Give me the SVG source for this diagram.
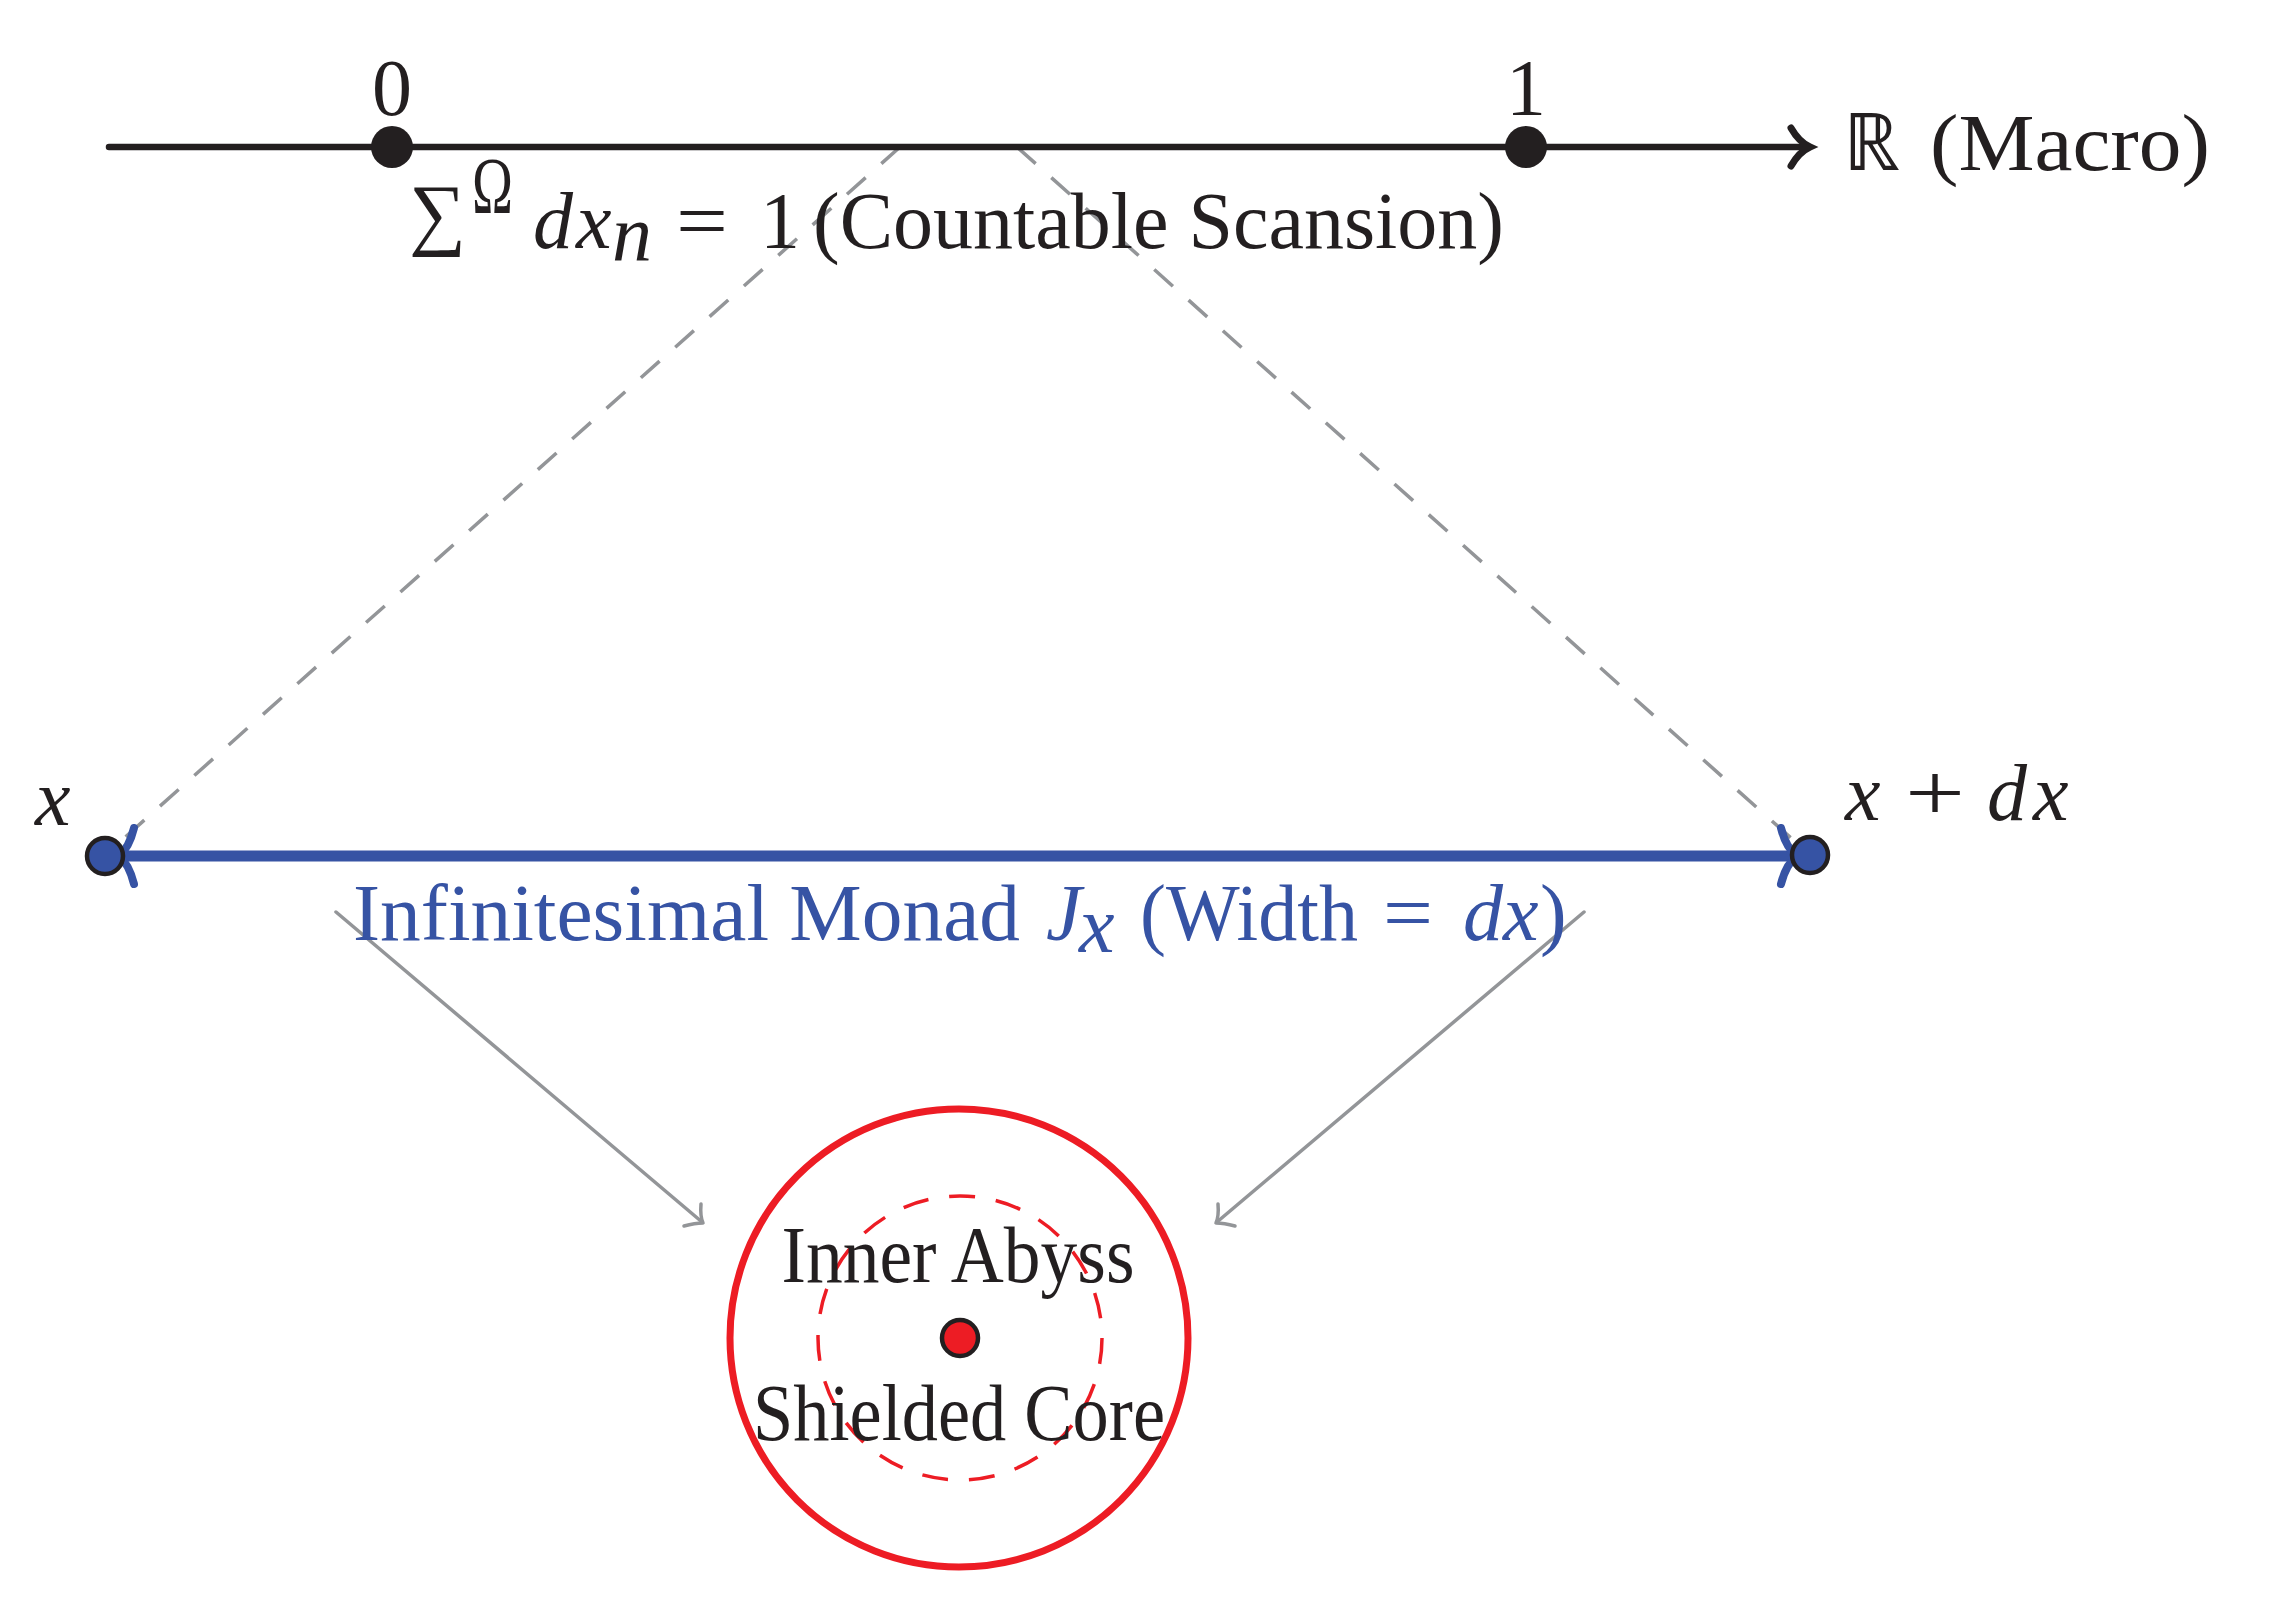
<svg xmlns="http://www.w3.org/2000/svg" width="2296" height="1598" viewBox="0 0 2296 1598">
<style>
.t{font-family:"Liberation Serif","Times New Roman",serif;font-size:80px;fill:#231f20}
.i{font-style:italic}
.b{fill:#3653a4}
.dash{stroke:#939598;stroke-width:3.5;fill:none;stroke-dasharray:25 21}
.gray{stroke:#939598;stroke-width:3.5;fill:none;stroke-linecap:round;stroke-linejoin:round}
.blk{stroke:#231f20;fill:none;stroke-linecap:round}
.blue{stroke:#3653a4;fill:none;stroke-linecap:round}
</style>
<rect width="2296" height="1598" fill="#ffffff"/>
<g id="connectors">
  <line class="dash" x1="900" y1="147" x2="104" y2="856"/>
  <line class="dash" x1="1017" y1="147" x2="1810" y2="855"/>
  <line class="gray" x1="336" y1="912" x2="702" y2="1222"/>
  <path class="gray" d="M 701 1204 Q 700 1216 703 1223 Q 695 1223 684 1226"/>
  <line class="gray" x1="1584" y1="912" x2="1217" y2="1222"/>
  <path class="gray" d="M 1218 1204 Q 1219 1216 1216 1223 Q 1224 1223 1235 1226"/>
</g>
<g id="axis">
  <line class="blk" x1="109" y1="147" x2="1806" y2="147" stroke-width="6.5" stroke-linecap="butt"/>
  <path class="blk" stroke-width="7" d="M 1791 128 Q 1799 142 1810 147 Q 1799 152 1791 166"/>
  <text class="t" x="1843" y="170">ℝ</text>
  <text class="t" x="1930" y="170" textLength="280" lengthAdjust="spacingAndGlyphs">(Macro)</text>
</g>
<g id="tick-0">
  <circle cx="392" cy="147" r="21" fill="#231f20"/>
  <text class="t" x="392" y="115" text-anchor="middle">0</text>
</g>
<g id="tick-1">
  <circle cx="1526" cy="147" r="21" fill="#231f20"/>
  <text class="t" x="1526" y="115" text-anchor="middle">1</text>
</g>
<g id="scansion-label">
  <text class="t" x="409" y="240" font-size="145" textLength="57" lengthAdjust="spacingAndGlyphs">∑</text>
  <text class="t" x="472" y="213" font-size="48" textLength="41" lengthAdjust="spacingAndGlyphs">Ω</text>
  <text class="t i" x="533" y="248">d</text>
  <text class="t i" x="576" y="248">x</text>
  <text class="t i" x="612" y="260" font-size="54">n</text>
  <text class="t" x="676" y="248" textLength="52" lengthAdjust="spacingAndGlyphs">=</text>
  <text class="t" x="760" y="248">1</text>
  <text class="t" x="813" y="248" textLength="691" lengthAdjust="spacingAndGlyphs">(Countable Scansion)</text>
</g>
<g id="monad">
  <line class="blue" x1="118" y1="856" x2="1798" y2="856" stroke-width="11" stroke-linecap="butt"/>
  <path class="blue" stroke-width="8" d="M 134 828 Q 129 848 119 856 Q 129 864 134 884"/>
  <path class="blue" stroke-width="8" d="M 1781 828 Q 1786 848 1797 856 Q 1786 864 1781 884"/>
  <text class="t b" x="353" y="940" textLength="667" lengthAdjust="spacingAndGlyphs">Infinitesimal Monad</text>
  <text class="t b i" x="1046" y="940">J</text>
  <text class="t b i" x="1079" y="952" font-size="54">x</text>
  <text class="t b" x="1140" y="940" textLength="218" lengthAdjust="spacingAndGlyphs">(Width</text>
  <text class="t b" x="1383" y="940" textLength="50" lengthAdjust="spacingAndGlyphs">=</text>
  <text class="t b i" x="1463" y="940">dx</text>
  <text class="t b" x="1540" y="940">)</text>
</g>
<g id="node-x">
  <circle cx="105" cy="856" r="18" fill="#3653a4" stroke="#231f20" stroke-width="4.5"/>
  <text class="t i" x="35" y="825">x</text>
</g>
<g id="node-x-dx">
  <circle cx="1810" cy="855" r="18" fill="#3653a4" stroke="#231f20" stroke-width="4.5"/>
  <text class="t i" x="1845" y="820">x</text>
  <text class="t" x="1905" y="820" textLength="60" lengthAdjust="spacingAndGlyphs">+</text>
  <text class="t i" x="1987" y="820">d</text>
  <text class="t i" x="2033" y="820">x</text>
</g>
<g id="core">
  <circle cx="959" cy="1338" r="229" fill="none" stroke="#ed1c24" stroke-width="7"/>
  <circle cx="960" cy="1338" r="142" fill="none" stroke="#ed1c24" stroke-width="3.5" stroke-dasharray="26 21"/>
  <circle cx="960" cy="1338" r="18" fill="#ed1c24" stroke="#231f20" stroke-width="4.5"/>
  <text class="t" x="958" y="1282" font-size="72" text-anchor="middle" textLength="353" lengthAdjust="spacingAndGlyphs">Inner Abyss</text>
  <text class="t" x="959" y="1440" font-size="72" text-anchor="middle" textLength="412" lengthAdjust="spacingAndGlyphs">Shielded Core</text>
</g>
</svg>
